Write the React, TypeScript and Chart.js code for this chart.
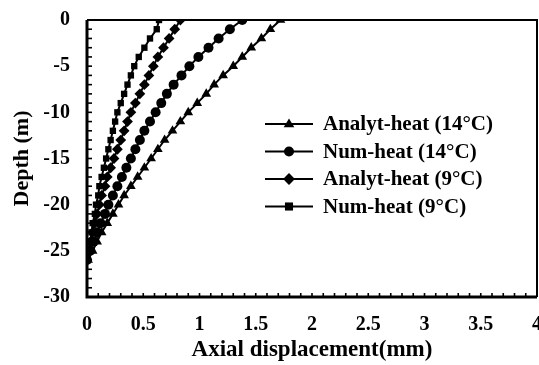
import React, { useEffect, useRef } from "react";
import { Chart, registerables } from "chart.js";

Chart.register(...registerables);

const depths = [0, -1, -2, -3, -4, -5, -6, -7, -8, -9, -10, -11, -12, -13, -14, -15, -16, -17, -18, -19, -20, -21, -22, -23, -24, -25, -26];
const analyt14 = [1.72, 1.63, 1.55, 1.46, 1.38, 1.30, 1.21, 1.13, 1.06, 0.98, 0.90, 0.83, 0.76, 0.69, 0.63, 0.57, 0.51, 0.45, 0.39, 0.33, 0.28, 0.23, 0.18, 0.13, 0.09, 0.05, 0.01];
const num14 = [1.38, 1.27, 1.17, 1.08, 0.99, 0.91, 0.84, 0.77, 0.71, 0.66, 0.61, 0.56, 0.51, 0.47, 0.43, 0.39, 0.35, 0.31, 0.27, 0.23, 0.19, 0.16, 0.12, 0.09, 0.06, 0.03, 0.00];
const analyt9 = [0.83, 0.78, 0.73, 0.68, 0.63, 0.59, 0.55, 0.51, 0.47, 0.43, 0.39, 0.36, 0.33, 0.30, 0.27, 0.24, 0.21, 0.18, 0.16, 0.13, 0.11, 0.09, 0.07, 0.05, 0.03, 0.01, 0.00];
const num9 = [0.64, 0.62, 0.56, 0.51, 0.46, 0.42, 0.39, 0.36, 0.33, 0.30, 0.27, 0.25, 0.23, 0.21, 0.19, 0.17, 0.15, 0.13, 0.11, 0.10, 0.08, 0.07, 0.05, 0.04, 0.03, 0.01, 0.00];

const seriesLabels = ["Analyt-heat (14°C)", "Num-heat (14°C)", "Analyt-heat (9°C)", "Num-heat (9°C)"];
const seriesValues = [analyt14, num14, analyt9, num9];
const pointStyles = ["triangle", "circle", "rectRot", "rect"];
const pointRadii = [5.6, 5, 5.4, 4.5];

const xTickLabels = ["0", "0.5", "1", "1.5", "2", "2.5", "3", "3.5", "4"];
const yTickLabels = ["-30", "-25", "-20", "-15", "-10", "-5", "0"];

const FONT = "'Liberation Serif', 'Times New Roman', serif";

export default function App() {
  const ref = useRef<HTMLCanvasElement | null>(null);

  useEffect(() => {
    if (!ref.current) return;

    function drawMarker(ctx: CanvasRenderingContext2D, style: string, r: number, x: number, y: number) {
      ctx.beginPath();
      if (style === "triangle") {
        ctx.moveTo(x, y - r);
        ctx.lineTo(x + r * 0.95, y + r * 0.6);
        ctx.lineTo(x - r * 0.95, y + r * 0.6);
        ctx.closePath();
      } else if (style === "circle") {
        ctx.arc(x, y, r, 0, Math.PI * 2);
      } else if (style === "rectRot") {
        ctx.moveTo(x, y - r * 1.1);
        ctx.lineTo(x + r * 1.1, y);
        ctx.lineTo(x, y + r * 1.1);
        ctx.lineTo(x - r * 1.1, y);
        ctx.closePath();
      } else {
        ctx.rect(x - r * 0.9, y - r * 0.9, 1.8 * r, 1.8 * r);
      }
      ctx.fill();
    }

    const frame = {
      id: "frameTicks",
      afterDraw(chart: any) {
        const { ctx, chartArea } = chart;
        const xs = chart.scales.x;
        const ys = chart.scales.y;
        ctx.save();
        ctx.strokeStyle = "#000";
        ctx.lineWidth = 1.6;
        for (let i = 0; i <= 40; i++) {
          const px = xs.getPixelForValue(i / 10);
          ctx.beginPath();
          ctx.moveTo(px, chartArea.bottom);
          ctx.lineTo(px, chartArea.bottom - 4);
          ctx.stroke();
        }
        for (let v = -30; v <= 0; v++) {
          const py = ys.getPixelForValue(v);
          ctx.beginPath();
          ctx.moveTo(chartArea.left, py);
          ctx.lineTo(chartArea.left + 5, py);
          ctx.stroke();
        }
        ctx.lineWidth = 2;
        ctx.beginPath();
        ctx.moveTo(chartArea.left, chartArea.top);
        ctx.lineTo(chartArea.right, chartArea.top);
        ctx.lineTo(chartArea.right, chartArea.bottom);
        ctx.stroke();
        ctx.lineWidth = 3;
        ctx.beginPath();
        ctx.moveTo(chartArea.left, chartArea.top);
        ctx.lineTo(chartArea.left, chartArea.bottom);
        ctx.lineTo(chartArea.right, chartArea.bottom);
        ctx.stroke();

        const lx0 = 265;
        const lx1 = 313;
        const ty = 124;
        const gap = 27.5;
        ctx.font = `bold 21px ${FONT}`;
        ctx.fillStyle = "#000";
        ctx.textBaseline = "middle";
        ctx.textAlign = "left";
        chart.data.datasets.forEach((ds: any, i: number) => {
          const y = ty + i * gap;
          ctx.lineWidth = 2;
          ctx.beginPath();
          ctx.moveTo(lx0, y);
          ctx.lineTo(lx1, y);
          ctx.stroke();
          drawMarker(ctx, ds.pointStyle, pointRadii[i], (lx0 + lx1) / 2, y);
          ctx.fillText(ds.label, 323, y + 1);
        });
        ctx.restore();
      },
    };

    const chart = new Chart(ref.current, {
      type: "line",
      data: {
        datasets: seriesValues.map((vals, i) => ({
          label: seriesLabels[i],
          data: vals.map((v, k) => ({ x: v, y: depths[k] })),
          borderColor: "#000",
          backgroundColor: "#000",
          borderWidth: 2,
          pointStyle: pointStyles[i] as any,
          pointRadius: pointRadii[i],
          pointBorderWidth: 0,
          pointBackgroundColor: "#000",
          pointBorderColor: "#000",
          tension: 0,
          fill: false,
          showLine: true,
        })),
      },
      options: {
        animation: false,
        responsive: false,
        maintainAspectRatio: false,
        layout: { padding: { top: 20, right: 8, left: 0, bottom: 0 } },
        plugins: { legend: { display: false }, tooltip: { enabled: false } },
        scales: {
          x: {
            type: "linear",
            min: 0,
            max: 4,
            grid: { display: false, drawTicks: false },
            border: { display: false },
            ticks: {
              stepSize: 0.5,
              padding: 16,
              color: "#000",
              font: { family: FONT, size: 20, weight: "bold" },
              callback: (v: any) => {
                const idx = Math.round(Number(v) / 0.5);
                return xTickLabels[idx] ?? "";
              },
              maxRotation: 0,
            },
            title: {
              display: true,
              text: "Axial displacement(mm)",
              color: "#000",
              font: { family: FONT, size: 23, weight: "bold" },
              padding: { top: 0, bottom: 1 },
            },
            afterFit: (s: any) => {
              s.height = 68;
              s.paddingLeft = 0;
              s.paddingRight = 0;
            },
          },
          y: {
            type: "linear",
            min: -30,
            max: 0,
            grid: { display: false, drawTicks: false },
            border: { display: false },
            ticks: {
              stepSize: 5,
              padding: 17,
              color: "#000",
              font: { family: FONT, size: 20, weight: "bold" },
              callback: (v: any) => {
                const idx = Math.round((Number(v) + 30) / 5);
                return yTickLabels[idx] ?? "";
              },
            },
            title: {
              display: true,
              text: "Depth (m)",
              color: "#000",
              font: { family: FONT, size: 22, weight: "bold" },
              padding: { top: 9, bottom: 0 },
            },
            afterFit: (s: any) => {
              s.width = 87;
              s.paddingTop = 0;
              s.paddingBottom = 0;
            },
          },
        },
      },
      plugins: [frame],
    });
    return () => chart.destroy();
  }, []);

  return (
    <div style={{ position: "fixed", left: 0, top: 0, width: 539, height: 365, overflow: "hidden", background: "#fff" }}>
      <canvas ref={ref} width={545} height={365} style={{ display: "block", width: 545, height: 365 }} />
    </div>
  );
}
